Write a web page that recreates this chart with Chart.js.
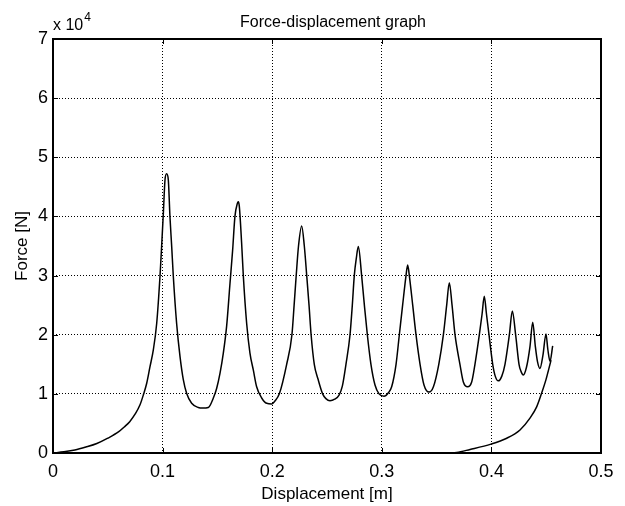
<!DOCTYPE html>
<html>
<head>
<meta charset="utf-8">
<script src="https://cdn.jsdelivr.net/npm/chart.js@4.4.1/dist/chart.umd.min.js"></script>
<style>
  html, body { margin: 0; padding: 0; background: #fff; }
</style>
</head>
<body>
<canvas id="chart" width="625" height="506"></canvas>
<script>
// ── DATA ─────────────────────────────────────────────────────────────────────
// displacement [m] / force [N], loading branch
const dispLoad = [
  0, 0.010, 0.020, 0.030, 0.040, 0.050, 0.060, 0.065, 0.070, 0.075,
  0.0795, 0.0824, 0.0855, 0.0885, 0.0915, 0.0946, 0.0976, 0.0991, 0.1007, 0.1022,
  0.1037, 0.1052, 0.1067, 0.1083, 0.1098, 0.1128, 0.1159, 0.1189, 0.1219, 0.1265,
  0.1326, 0.1365, 0.1417, 0.1463, 0.1493, 0.1524, 0.1554, 0.1584, 0.1615, 0.1639,
  0.1660, 0.1682, 0.1691, 0.1700, 0.1721, 0.1737, 0.1767, 0.1797, 0.1828, 0.1858,
  0.1904, 0.1950, 0.1995, 0.2025, 0.2065, 0.2132, 0.2180, 0.2200, 0.2219, 0.2240,
  0.2269, 0.2293, 0.2315, 0.2336, 0.2355, 0.2384, 0.2418, 0.2460, 0.2490, 0.2527,
  0.2570, 0.2610, 0.2640, 0.2673, 0.2710, 0.2731, 0.2749, 0.2768, 0.2786, 0.2816,
  0.2841, 0.2868, 0.2901, 0.2938, 0.2975, 0.3020, 0.3060, 0.3090, 0.3130, 0.3160,
  0.3190, 0.3221, 0.3236, 0.3251, 0.3282, 0.3312, 0.3349, 0.3385, 0.3431, 0.3471,
  0.3520, 0.3562, 0.3592, 0.3616, 0.3641, 0.3668, 0.3713, 0.3744, 0.3783, 0.3820,
  0.3850, 0.3890, 0.3915, 0.3935, 0.3955, 0.3978, 0.4012, 0.4035, 0.4063, 0.4095,
  0.4124, 0.4164, 0.4191, 0.4221, 0.4252, 0.4270, 0.4291, 0.4320, 0.4352, 0.4377,
  0.4401, 0.4420, 0.4443, 0.4470, 0.4498, 0.4515, 0.4535, 0.4559
];
const forceLoad = [
  0, 200, 500, 1000, 1600, 2500, 3600, 4400, 5300, 6600,
  8200, 9800, 11800, 14600, 17400, 21900, 29800, 34900, 40600, 46200,
  47200, 46200, 40000, 34900, 29800, 21900, 16300, 12400, 10100, 8400,
  7700, 7600, 7700, 9300, 10900, 13500, 16900, 21400, 28700, 34300,
  40000, 42200, 42500, 41700, 35500, 29800, 21900, 16900, 14000, 11200,
  9300, 8400, 8300, 8800, 10000, 15000, 20000, 25000, 30000, 35000,
  38400, 35000, 30000, 25000, 20000, 15000, 12500, 10000, 9200, 8850,
  9100, 9800, 11300, 15000, 20000, 25000, 30000, 33000, 34900, 30000,
  25000, 20000, 15000, 11500, 10000, 9600, 10200, 11200, 15000, 20000,
  25000, 30000, 31800, 30000, 25000, 20000, 15000, 11500, 10300, 11200,
  15000, 20000, 25000, 28800, 25000, 20000, 15000, 12000, 11200, 12000,
  15000, 20000, 23500, 26500, 23500, 20000, 15000, 13000, 12200, 13000,
  15000, 20000, 24000, 20000, 15000, 13800, 13200, 14500, 18000, 22100,
  18000, 15500, 14300, 16500, 20100, 17500, 15500, 18100
];
// unloading branch
const dispUnload  = [0.4544, 0.4529, 0.4498, 0.4458, 0.4413, 0.4352, 0.4261, 0.4140, 0.3996, 0.3805, 0.3683, 0.3531];
const forceUnload = [15700, 14600, 12400, 10100, 7800, 5900, 3900, 2500, 1500, 600, 100, 0];

const xTicks      = [0, 0.1, 0.2, 0.3, 0.4, 0.5];
const xTickLabels = ['0', '0.1', '0.2', '0.3', '0.4', '0.5'];
const yTicks      = [0, 10000, 20000, 30000, 40000, 50000, 60000, 70000];
const yTickLabels = ['0', '1', '2', '3', '4', '5', '6', '7'];

const FONT = '"Liberation Sans", Arial, Helvetica, sans-serif';
const toPts = (xs, ys) => xs.map((v, i) => ({ x: v, y: ys[i] }));

// ── FRAME, INWARD TICKS, TITLE, EXPONENT ─────────────────────────────────────
const matlabFrame = {
  id: 'matlabFrame',
  afterDraw(chart) {
    const { ctx, chartArea: a, scales: { x, y } } = chart;
    ctx.save();
    ctx.strokeStyle = '#000';
    ctx.lineWidth = 1;
    ctx.beginPath();
    xTicks.forEach(v => {
      const px = Math.round(x.getPixelForValue(v)) + 0.5;
      ctx.moveTo(px, a.bottom); ctx.lineTo(px, a.bottom - 5);
      ctx.moveTo(px, a.top);    ctx.lineTo(px, a.top + 5);
    });
    yTicks.forEach(v => {
      const py = Math.round(y.getPixelForValue(v)) + 0.5;
      ctx.moveTo(a.left, py);  ctx.lineTo(a.left + 5, py);
      ctx.moveTo(a.right, py); ctx.lineTo(a.right - 5, py);
    });
    ctx.stroke();
    ctx.lineWidth = 2;
    ctx.strokeRect(a.left, a.top, a.right - a.left, a.bottom - a.top);

    ctx.fillStyle = '#000';
    ctx.textBaseline = 'alphabetic';
    ctx.textAlign = 'center';
    ctx.font = '16px ' + FONT;
    ctx.fillText('Force-displacement graph', (a.left + a.right) / 2 + 6, 27);

    ctx.textAlign = 'left';
    ctx.font = '16px ' + FONT;
    ctx.fillText('x 10', a.left, 29.5);
    const w = ctx.measureText('x 10').width;
    ctx.font = '12px ' + FONT;
    ctx.fillText('4', a.left + w + 1, 20.5);
    ctx.restore();
  }
};

// ── CHART ────────────────────────────────────────────────────────────────────
const lineStyle = {
  showLine: true, borderColor: '#000', borderWidth: 1.5, pointRadius: 0,
  cubicInterpolationMode: 'monotone', fill: false
};

new Chart(document.getElementById('chart').getContext('2d'), {
  type: 'scatter',
  data: {
    datasets: [
      { label: 'loading',   data: toPts(dispLoad, forceLoad),     ...lineStyle },
      { label: 'unloading', data: toPts(dispUnload, forceUnload), ...lineStyle }
    ]
  },
  options: {
    responsive: false,
    animation: false,
    devicePixelRatio: 1,
    layout: { padding: { top: 39, right: 24, bottom: 0, left: 0 } },
    plugins: { legend: { display: false }, tooltip: { enabled: false }, title: { display: false } },
    scales: {
      x: {
        type: 'linear', min: 0, max: 0.5,
        afterBuildTicks: s => { s.ticks = xTicks.map(v => ({ value: v })); },
        afterFit: s => { s.height = 53; },
        ticks: {
          padding: 8, color: '#000', font: { family: FONT, size: 18 },
          callback: v => xTickLabels[xTicks.indexOf(v)] ?? ''
        },
        grid: { color: '#000', lineWidth: 1, drawTicks: false },
        border: { display: false, dash: [1, 2] },
        title: { display: true, text: 'Displacement [m]', color: '#000', font: { family: FONT, size: 17 }, padding: { top: 0, bottom: 1 } }
      },
      y: {
        type: 'linear', min: 0, max: 70000,
        afterBuildTicks: s => { s.ticks = yTicks.map(v => ({ value: v })); },
        afterFit: s => { s.width = 53; },
        ticks: {
          padding: 5, color: '#000', font: { family: FONT, size: 18 },
          callback: v => yTickLabels[yTicks.indexOf(v)] ?? ''
        },
        grid: { color: '#000', lineWidth: 1, drawTicks: false },
        border: { display: false, dash: [1, 2] },
        title: { display: true, text: 'Force [N]', color: '#000', font: { family: FONT, size: 17 }, padding: { top: 12, bottom: 0 } }
      }
    }
  },
  plugins: [matlabFrame]
});
</script>
</body>
</html>
